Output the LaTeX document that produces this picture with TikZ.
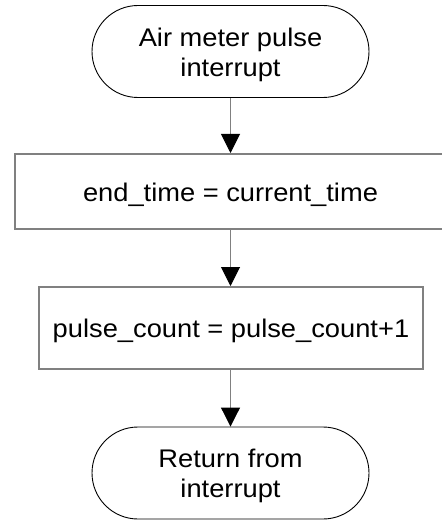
\documentclass[tikz,border=0pt]{standalone}
\usepackage{fontspec}
\setmainfont{Liberation Sans}[FakeStretch=1.07]
\usetikzlibrary{arrows.meta}
\newcommand\lowtx[1]{\raisebox{-3pt}[\height][\depth]{#1}}
\begin{document}
\begin{tikzpicture}[x=1pt,y=-1pt,
  txt/.style={font=\fontsize{25.5}{30}\selectfont, align=center, inner sep=0pt},
  term/.style={txt, draw=black, line width=0.9pt, rounded corners=46pt,
    minimum width=277pt, minimum height=92pt},
  proc/.style={txt, draw=gray, line width=2pt},
  flow/.style={draw=gray, line width=1pt,
    -{Triangle[length=19pt,width=19pt,color=black]}}]
\useasboundingbox (0,0) rectangle (441,521);
\node[term] (start) at (230.5,51.5) {\lowtx{Air meter pulse}\\\lowtx{interrupt}};
\node[proc, minimum width=431pt, minimum height=75pt] (b1) at (230.5,191.5) {\lowtx{end\_time = current\_time}};
\node[proc, minimum width=384pt, minimum height=82pt] (b2) at (231,328) {\lowtx{pulse\_count = pulse\_count+1}};
\node[term] (stop) at (230.5,473) {\lowtx{Return from}\\\lowtx{interrupt}};
\draw[flow] (start.south) -- (b1.north);
\draw[flow] (b1.south) -- (b1.south |- b2.north);
\draw[flow] (b2.south -| stop.north) -- (stop.north);
\end{tikzpicture}
\end{document}
